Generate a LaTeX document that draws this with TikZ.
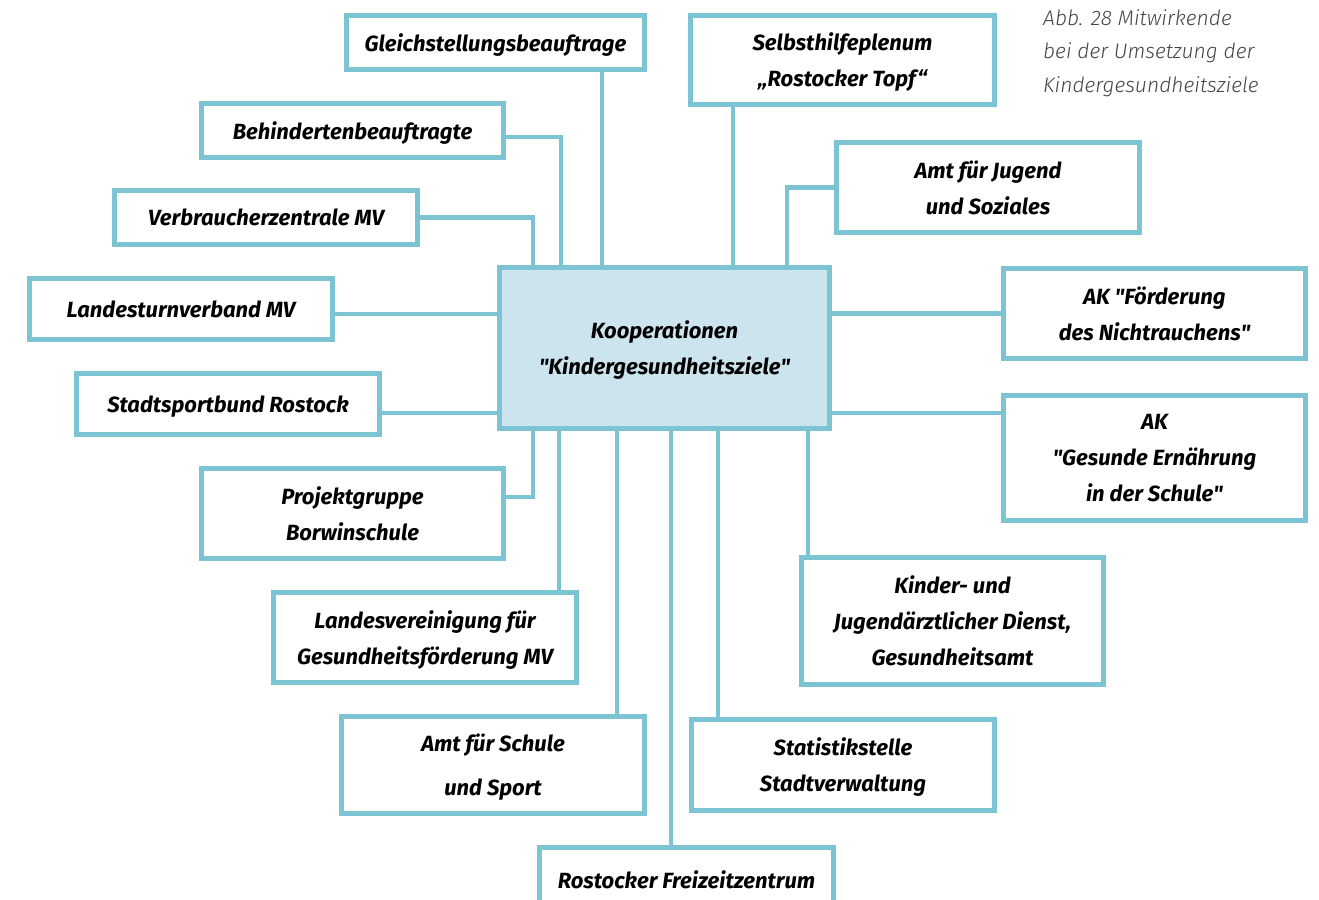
\documentclass[tikz,border=0pt]{standalone}
\usepackage{fontspec}
\usepackage{xcolor}
\setmainfont{Fira Sans}
\newfontfamily\captfont{Fira Sans Light Italic}
\newfontfamily\rawfont{Fira Sans}
\definecolor{frame}{HTML}{7CC4D4}
\definecolor{hubfill}{HTML}{CCE4EE}
\definecolor{captgray}{HTML}{444444}
\newcommand{\sq}{{\rawfont\bfseries\itshape\symbol{34}}}

\begin{document}
\begin{tikzpicture}[x=1pt, y=-1pt,
    box/.style={rectangle, draw=frame, line width=4.5pt, fill=white, align=center, inner sep=0pt,
        outer sep=0pt, text depth=0pt, font=\fontsize{22}{36}\selectfont\bfseries\itshape},
    hub/.style={box, fill=hubfill},
    link/.style={draw=frame, line width=4.5pt}]
    \useasboundingbox (0,0) rectangle (1319,899);

    % the hub
    \node[hub, minimum width=330pt, minimum height=161pt] (ctr) at (664.5,348) {Kooperationen\\\sq Kindergesundheitsziele\sq};

    % left side
    \node[box, minimum width=298pt, minimum height=54pt] (gleich) at (495.5,42.5) {Gleichstellungsbeauftrage};
    \node[box, minimum width=302pt, minimum height=54pt] (behind) at (352.5,130.5) {Behindertenbeauftragte};
    \node[box, minimum width=303pt, minimum height=54pt] (verbr) at (266,217.5) {Verbraucherzentrale MV};
    \node[box, minimum width=303pt, minimum height=61pt] (landest) at (181,309) {Landesturnverband MV};
    \node[box, minimum width=303pt, minimum height=61pt] (stadtsp) at (228,404) {Stadtsportbund Rostock};
    \node[box, minimum width=302pt, minimum height=90pt] (projekt) at (352.5,513.5) {Projektgruppe\\Borwinschule};
    \node[box, minimum width=303pt, minimum height=90pt] (landesv) at (425,637.5) {Landesvereinigung für\\Gesundheitsförderung MV};
    \node[box, minimum width=303pt, minimum height=97pt] (schule) at (493,765) {Amt für Schule\\[8pt]und Sport};
    \node[box, minimum width=294pt, minimum height=65pt] (freizeit) at (686.5,880) {Rostocker Freizeitzentrum};

    % right side
    \node[box, minimum width=304pt, minimum height=89pt] (selbst) at (842.5,60) {Selbsthilfeplenum\\„Rostocker Topf“};
    \node[box, minimum width=303pt, minimum height=90pt] (jugend) at (988,187.5) {Amt für Jugend\\und Soziales};
    \node[box, minimum width=302pt, minimum height=90pt] (akfoerd) at (1154.5,313.5) {AK \sq Förderung\\des Nichtrauchens\sq};
    \node[box, minimum width=302pt, minimum height=125pt] (akgesund) at (1154.5,458) {AK\\\sq Gesunde Ernährung\\in der Schule\sq};
    \node[box, minimum width=302pt, minimum height=127pt] (kinder) at (952.5,621) {Kinder- und\\Jugendärztlicher Dienst,\\Gesundheitsamt};
    \node[box, minimum width=303pt, minimum height=91pt] (statist) at (843,765) {Statistikstelle\\Stadtverwaltung};

    % caption
    \node[anchor=north west, inner sep=0pt, align=left, text=captgray,
        font=\captfont\fontsize{21}{33.5}\selectfont] (capt) at (1043,9)
        {Abb. 28 Mitwirkende\\bei der Umsetzung der\\Kindergesundheitsziele};

    % connectors
    \draw[link] ([xshift=106.5pt]gleich.south) -- ([xshift=102.5pt]ctr.north west);
    \draw[link] ([yshift=-6.5pt]behind.east) -| ([xshift=61.5pt]ctr.north west);
    \draw[link] (verbr.east) -| ([xshift=33.5pt]ctr.north west);
    \draw[link] ([xshift=-109.5pt]selbst.south) -- ([xshift=233.5pt]ctr.north west);
    \draw[link] (jugend.west) -| ([xshift=287.5pt]ctr.north west);
    \draw[link] ([yshift=-5pt]landest.east) -- ([yshift=34pt]ctr.west);
    \draw[link] ([yshift=-9pt]stadtsp.east) -- ([yshift=-65pt]ctr.west);
    \draw[link] (akfoerd.west) -- ([yshift=34.5pt]ctr.east);
    \draw[link] ([yshift=45pt]akgesund.west) -- ([yshift=-65pt]ctr.east);
    \draw[link] ([yshift=16.5pt]projekt.east) -| ([xshift=33.5pt]ctr.south west);
    \draw[link] ([xshift=134pt]landesv.north) -- ([xshift=59.5pt]ctr.south west);
    \draw[link] ([xshift=124pt]schule.north) -- ([xshift=117.5pt]ctr.south west);
    \draw[link] ([xshift=-15.5pt]freizeit.north) -- ([xshift=171.5pt]ctr.south west);
    \draw[link] ([xshift=-125pt]statist.north) -- ([xshift=218.5pt]ctr.south west);
    \draw[link] ([xshift=-144.5pt]kinder.north) -- ([xshift=308.5pt]ctr.south west);
\end{tikzpicture}
\end{document}
